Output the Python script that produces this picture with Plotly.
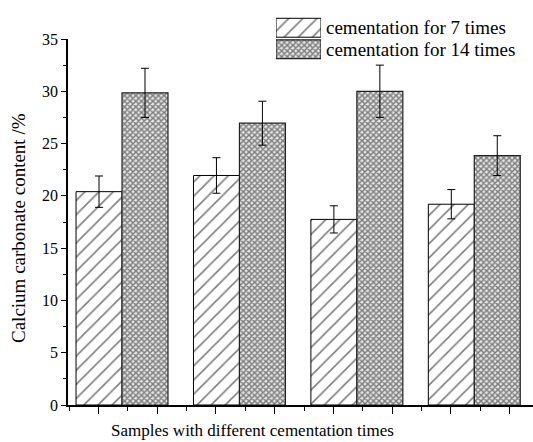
import plotly.graph_objects as go

# ---- data ----
samples = [1, 2, 3, 4]
series_names = ["cementation for 7 times", "cementation for 14 times"]
vals_7 = [20.4, 21.95, 17.75, 19.2]
err_7 = [1.5, 1.7, 1.3, 1.4]
vals_14 = [29.85, 26.95, 30.0, 23.85]
err_14 = [2.35, 2.1, 2.5, 1.9]
y_ticks = [0, 5, 10, 15, 20, 25, 30, 35]
y_minor = [2.5, 7.5, 12.5, 17.5, 22.5, 27.5, 32.5]
x_major = [0.8, 1.3, 1.8, 2.3, 2.8, 3.3, 3.8, 4.3]
x_minor = [0.55, 1.05, 1.55, 2.05, 2.55, 3.05, 3.55, 4.05]

FONT = "Liberation Serif"
pat7 = dict(shape="/", fgcolor="black", bgcolor="white", size=10, solidity=0.16)
pat14 = dict(shape="x", fgcolor="#111111", bgcolor="#e6e6e6", size=4, solidity=0.6)

fig = go.Figure()
fig.add_trace(go.Bar(
    x=samples, y=vals_7, name=series_names[0],
    marker=dict(color="white", pattern=pat7, line=dict(color="black", width=1)),
    error_y=dict(type="data", array=err_7, color="black", thickness=1, width=4),
    showlegend=False))
fig.add_trace(go.Bar(
    x=samples, y=vals_14, name=series_names[1],
    marker=dict(color="white", pattern=pat14, line=dict(color="#222", width=1.2)),
    error_y=dict(type="data", array=err_14, color="black", thickness=1, width=4),
    showlegend=False))

# legend patches (drawn on a small auxiliary axis)
fig.add_trace(go.Bar(x=[1], y=[1], base=0, orientation="h", width=0.88, offset=-0.44,
                     marker=dict(color="white", pattern=pat7, line=dict(color="black", width=1)),
                     xaxis="x2", yaxis="y2", showlegend=False, hoverinfo="skip"))
fig.add_trace(go.Bar(x=[1], y=[0], base=0, orientation="h", width=0.88, offset=-0.44,
                     marker=dict(color="white", pattern=pat14, line=dict(color="#222", width=1.2)),
                     xaxis="x2", yaxis="y2", showlegend=False, hoverinfo="skip"))

top_m, bot_m, left_m = 10, 37, 68
ph = 442 - top_m - bot_m
def py(pix):
    return (442 - bot_m - pix) / ph
def px(pix):
    return (pix - left_m) / (533 - left_m)

fig.update_layout(
    width=533, height=442,
    margin=dict(l=left_m, r=0, t=top_m, b=bot_m),
    paper_bgcolor="white", plot_bgcolor="white",
    barmode="group", bargap=0.217, bargroupgap=0,
    font=dict(family=FONT, size=16, color="black"),
    xaxis=dict(range=[0.54, 4.5], tickvals=x_major, ticktext=[""] * len(x_major),
               ticks="outside", ticklen=7, tickwidth=1, tickcolor="black",
               minor=dict(tickvals=x_minor, ticks="outside", ticklen=4, tickcolor="black"),
               showline=True, linecolor="black", linewidth=1.5, showgrid=False,
               zeroline=False),
    yaxis=dict(range=[0, 35], domain=[0, py(39)], tickvals=y_ticks,
               ticks="outside", ticklen=5, tickwidth=1, tickcolor="black",
               minor=dict(tickvals=y_minor, ticks="outside", ticklen=3, tickcolor="black"),
               showline=True, linecolor="black", linewidth=1.5, showgrid=False,
               zeroline=False, tickfont=dict(size=16)),
    xaxis2=dict(domain=[px(276), px(321)], range=[0, 1], visible=False, anchor="y2"),
    yaxis2=dict(domain=[py(60), py(17)], range=[-0.5, 1.5], visible=False, anchor="x2"),
)

fig.add_annotation(text=series_names[0], x=px(324), y=py(27), xref="paper", yref="paper",
                   xanchor="left", yanchor="middle", showarrow=False, font=dict(size=19))
fig.add_annotation(text=series_names[1], x=px(324), y=py(50), xref="paper", yref="paper",
                   xanchor="left", yanchor="middle", showarrow=False, font=dict(size=19))
fig.add_annotation(text="Samples with different cementation times", x=px(252), y=py(431),
                   xref="paper", yref="paper", xanchor="center", yanchor="middle",
                   showarrow=False, font=dict(size=17))
fig.add_annotation(text="Calcium carbonate content /%", x=px(18), y=py(228),
                   xref="paper", yref="paper", xanchor="center", yanchor="middle",
                   textangle=-90, showarrow=False, font=dict(size=19))

fig.write_html("out.html")
